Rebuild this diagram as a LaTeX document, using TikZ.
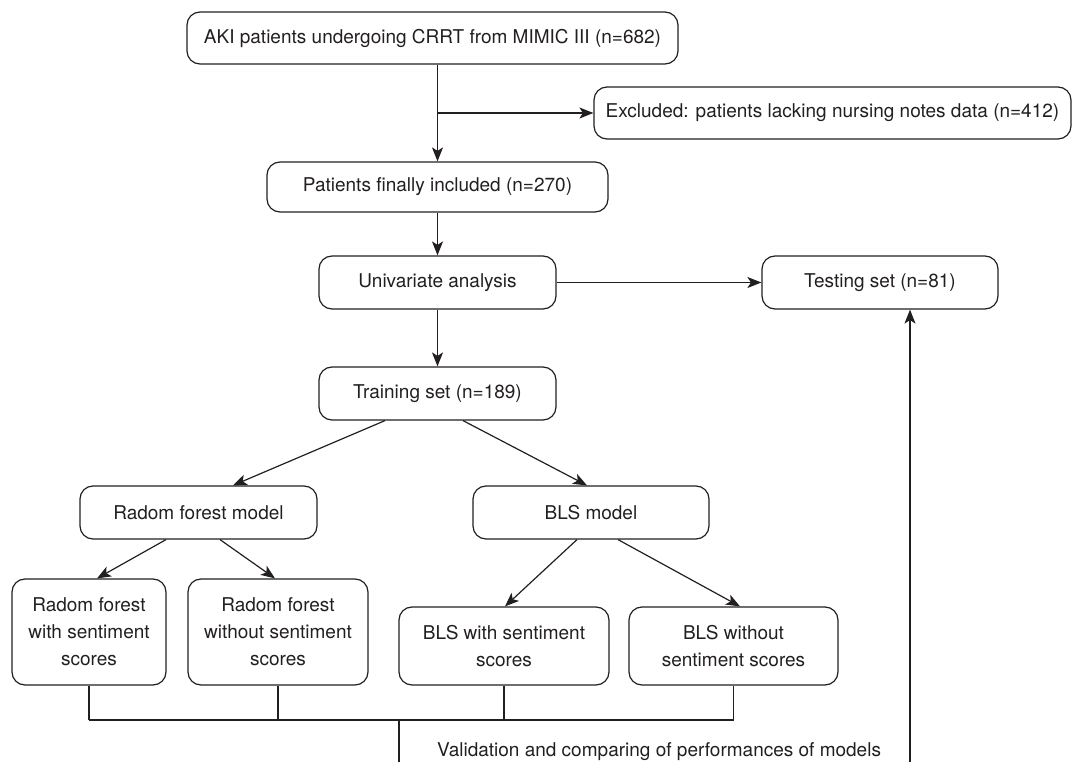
\documentclass[tikz,border=0pt]{standalone}
\usepackage{fontspec}
\setmainfont{TeX Gyre Heros}
\usetikzlibrary{arrows.meta,calc}
\definecolor{ink}{HTML}{231F20}
\begin{document}
\begin{tikzpicture}[x=1pt,y=-1pt,
  box/.style={draw=ink,line width=1.2pt,rounded corners=13pt,inner sep=0pt,align=center,
     text=ink,font=\fontsize{19}{27}\selectfont},
  conn/.style={draw=ink,line width=1.2pt},
  arr/.style={conn,-{Stealth[length=14pt,width=11pt,inset=3.5pt]}}]
\useasboundingbox (0,0) rectangle (1072,762);
\node[box,minimum width=491pt,minimum height=52pt] (aki) at (432.5,38) {AKI patients undergoing CRRT from MIMIC III (n=682)};
\node[box,minimum width=477pt,minimum height=52pt] (excl) at (832.5,113) {Excluded: patients lacking nursing notes data (n=412)};
\node[box,minimum width=341pt,minimum height=50pt] (incl) at (437.5,187) {Patients finally included (n=270)};
\node[box,minimum width=237pt,minimum height=53pt] (uni) at (437.5,282.5) {Univariate analysis};
\node[box,minimum width=236pt,minimum height=53pt] (test) at (880,282.5) {Testing set (n=81)};
\node[box,minimum width=237pt,minimum height=53pt] (train) at (437.5,393.5) {Training set (n=189)};
\node[box,minimum width=237pt,minimum height=53pt] (rfm) at (198.5,512.5) {Radom forest model};
\node[box,minimum width=236pt,minimum height=53pt] (blsm) at (591,512.5) {BLS model};
\node[box,minimum width=154pt,minimum height=106pt] (rfw) at (89,632) {Radom forest\\with sentiment\\scores};
\node[box,minimum width=180pt,minimum height=106pt] (rfwo) at (278,632) {Radom forest\\without sentiment\\scores};
\node[box,minimum width=210pt,minimum height=78pt] (blsw) at (504,646) {BLS with sentiment\\scores};
\node[box,minimum width=209pt,minimum height=78pt] (blswo) at (733.5,646) {BLS without\\sentiment scores};
\node[anchor=base west,inner sep=0pt,text=ink,font=\fontsize{19}{27}\selectfont] (val) at (437,756) {Validation and comparing of performances of models};
\coordinate (br) at (437.5,113);
\coordinate (bus) at (399,720);
\coordinate (bot) at (399,762);
\coordinate (rb) at (910,762);
% top
\draw[arr] (incl.north |- aki.south) -- (incl.north);
\draw[arr] (br) -- (excl.west);
\draw[arr] (incl.south) -- (uni.north);
\draw[arr] (uni.east) -- (test.west);
\draw[arr] (uni.south) -- (train.north);
% splits
\draw[arr] ($(train.south)+(-52.5,0)$) -- ($(rfm.north)+(34.5,0)$);
\draw[arr] ($(train.south)+(25.5,0)$) -- ($(blsm.north)+(-4,0)$);
\draw[arr] ($(rfm.south)+(-32.5,0)$) -- ($(rfw.north)+(8,0)$);
\draw[arr] ($(rfm.south)+(21.5,0)$) -- ($(rfwo.north)+(-3,0)$);
\draw[arr] ($(blsm.south)+(-14,0)$) -- ($(blsw.north)+(1,0)$);
\draw[arr] ($(blsm.south)+(27,0)$) -- ($(blswo.north)+(6.5,0)$);
% bottom bus
\draw[conn] (rfw.south) -- (rfw.south |- bus);
\draw[conn] (rfwo.south) -- (rfwo.south |- bus);
\draw[conn] (blsw.south) -- (blsw.south |- bus);
\draw[conn] (blswo.south) -- (blswo.south |- bus);
\draw[conn] (rfw.south |- bus) -- (blswo.south |- bus);
\draw[conn] (bus) -- (bot);
\draw[arr] (rb) -- (rb |- test.south);
\end{tikzpicture}
\end{document}
